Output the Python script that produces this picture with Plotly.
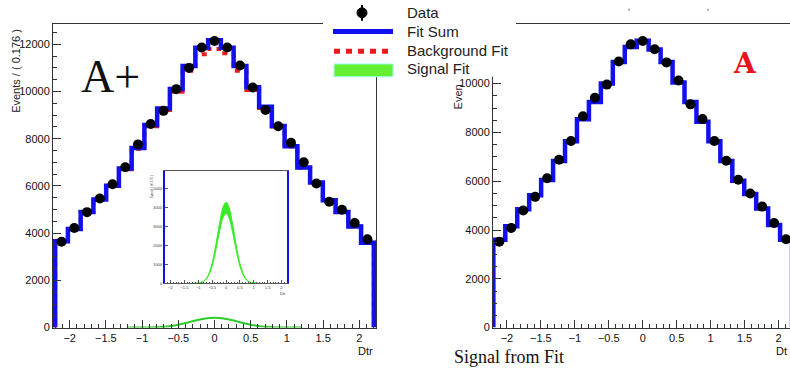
import plotly.graph_objects as go

W, H = 790, 371

# ---------------- data ----------------
bin_centers = [-2.112, -1.936, -1.760, -1.584, -1.408, -1.232, -1.056, -0.880, -0.704,
               -0.528, -0.352, -0.176, 0.0, 0.176, 0.352, 0.528, 0.704, 0.880,
               1.056, 1.232, 1.408, 1.584, 1.760, 1.936, 2.112]
bin_half = 0.088

data_left = [3640, 4220, 4890, 5470, 6070, 6790, 7760, 8620, 9180, 10100, 11000, 11860, 12140,
             11860, 11100, 10170, 9220, 8530, 7830, 7000, 6100, 5330, 4990, 4430, 3740]
fit_left = [3660, 4180, 4900, 5430, 6010, 6740, 7610, 8580, 9280, 10110, 11080, 11850, 12170,
            11850, 11080, 10180, 9350, 8540, 7680, 6780, 6150, 5390, 4900, 4280, 3590]
bkg_left = [3658, 4178, 4896, 5420, 6000, 6710, 7580, 8530, 9220, 9990, 10880, 11580, 11800,
            11620, 10880, 10060, 9300, 8520, 7670, 6775, 6148, 5390, 4900, 4280, 3590]

data_right = [3520, 4085, 4800, 5360, 6120, 6880, 7650, 8660, 9420, 9960, 10910, 11610, 11750,
              11410, 10870, 10130, 9150, 8550, 7650, 6840, 6060, 5500, 4960, 4290, 3620]
fit_right = [3600, 4150, 4850, 5420, 6050, 6830, 7640, 8540, 9250, 10010, 10890, 11500, 11760,
             11400, 10890, 10050, 9250, 8440, 7640, 6830, 6020, 5480, 4880, 4210, 3600]

sig_x = [-1.2, -1.1, -1.0, -0.9, -0.8, -0.7, -0.6, -0.5, -0.4, -0.3, -0.2, -0.1, 0.0,
         0.1, 0.2, 0.3, 0.4, 0.5, 0.6, 0.7, 0.8, 0.9, 1.0, 1.1, 1.2]
sig_y = [0, 1, 3, 8, 18, 38, 72, 124, 192, 271, 346, 400, 420,
         400, 346, 271, 192, 124, 72, 38, 18, 8, 3, 1, 0]

band_hi = [1, 5, 17, 48, 123, 283, 580, 1071, 1767, 2610, 3444, 4068, 4300,
           4068, 3444, 2610, 1767, 1071, 580, 283, 123, 48, 17, 5, 1]
band_lo = [0, 4, 14, 41, 106, 243, 500, 921, 1521, 2246, 2964, 3500, 3700,
           3500, 2964, 2246, 1521, 921, 500, 243, 106, 41, 14, 4, 0]

x_ticks = [-2, -1.5, -1, -0.5, 0, 0.5, 1, 1.5, 2]
x_ticklabels = ["\u22122", "\u22121.5", "\u22121", "\u22120.5", "0", "0.5", "1", "1.5", "2"]
y_ticks_main = [0, 2000, 4000, 6000, 8000, 10000, 12000]
y_ticks_inset = [0, 1000, 2000, 3000, 4000, 5000]

legend_labels = ["Data", "Fit Sum", "Background Fit", "Signal Fit"]

BLUE = "#1010f0"
RED = "#ee1a1a"
GREEN_LINE = "#2ccc2c"
GREEN_BAND = "#3cea2a"


def step(vals):
    xs = [bin_centers[0] - bin_half] + [c - bin_half for c in bin_centers] + [bin_centers[-1] + bin_half] * 2
    ys = [0] + list(vals) + [vals[-1], 0]
    return xs, ys


def px(x):
    return x / W


def py(y):
    return 1 - y / H


fig = go.Figure()

# left main panel
xs, ys = step(bkg_left)
fig.add_trace(go.Scatter(x=xs, y=ys, mode="lines", line=dict(color=RED, width=4, dash="5px,5px", shape="hv"),
                         xaxis="x", yaxis="y", hoverinfo="skip"))
xs, ys = step(fit_left)
fig.add_trace(go.Scatter(x=xs, y=ys, mode="lines", line=dict(color=BLUE, width=4.5, shape="hv"),
                         xaxis="x", yaxis="y", hoverinfo="skip"))
fig.add_trace(go.Scatter(x=sig_x, y=sig_y, mode="lines", line=dict(color=GREEN_LINE, width=2, shape="spline"),
                         xaxis="x", yaxis="y", hoverinfo="skip"))
fig.add_trace(go.Scatter(x=bin_centers, y=data_left, mode="markers", marker=dict(color="black", size=10),
                         xaxis="x", yaxis="y", cliponaxis=False))

# right panel
xs, ys = step(fit_right)
fig.add_trace(go.Scatter(x=xs, y=ys, mode="lines", line=dict(color=BLUE, width=4.5, shape="hv"),
                         xaxis="x2", yaxis="y2", hoverinfo="skip"))
fig.add_trace(go.Scatter(x=bin_centers, y=data_right, mode="markers", marker=dict(color="black", size=10),
                         xaxis="x2", yaxis="y2", cliponaxis=False))

# inset band
fig.add_trace(go.Scatter(x=sig_x, y=band_lo, mode="lines", line=dict(color=GREEN_BAND, width=1, shape="spline"),
                         xaxis="x3", yaxis="y3", hoverinfo="skip"))
fig.add_trace(go.Scatter(x=sig_x, y=band_hi, mode="lines", fill="tonexty", fillcolor=GREEN_BAND,
                         line=dict(color=GREEN_BAND, width=1, shape="spline"),
                         xaxis="x3", yaxis="y3", hoverinfo="skip"))

tickfont = dict(family="Liberation Sans, Arial, sans-serif", size=11, color="#111")
axis_common = dict(showgrid=False, zeroline=False, showline=True, linecolor="#333", linewidth=1,
                   ticks="inside", tickcolor="#333", tickfont=tickfont, fixedrange=True)

dom_y = [38 / H, 347 / H]

fig.update_layout(
    width=W, height=H, margin=dict(l=0, r=0, t=0, b=0),
    paper_bgcolor="white", plot_bgcolor="rgba(0,0,0,0)", showlegend=False,
    xaxis=dict(domain=[53 / W, 376 / W], range=[-2.23, 2.23], anchor="y", mirror=True,
               tickvals=x_ticks, ticktext=x_ticklabels, ticklen=8,
               minor=dict(ticks="inside", dtick=0.1, ticklen=4, tickcolor="#333"), **axis_common),
    yaxis=dict(domain=dom_y, range=[0, 12875], anchor="x", mirror=True,
               tickvals=y_ticks_main, tickformat="d", ticklen=8,
               minor=dict(ticks="inside", dtick=500, ticklen=4, tickcolor="#333"), **axis_common),
    xaxis2=dict(domain=[493 / W, 1.0], range=[-2.205, 2.17], anchor="y2", mirror=True,
                tickvals=x_ticks, ticktext=x_ticklabels, ticklen=8,
                minor=dict(ticks="inside", dtick=0.1, ticklen=4, tickcolor="#333"), **axis_common),
    yaxis2=dict(domain=dom_y, range=[0, 12460], anchor="x2",
                tickvals=y_ticks_main, tickformat="d", ticklen=8,
                minor=dict(ticks="inside", dtick=500, ticklen=4, tickcolor="#333"), **axis_common),
    xaxis3=dict(domain=[165 / W, 287 / W], range=[-2.2, 2.2], anchor="y3", mirror=True,
                tickvals=x_ticks, ticktext=x_ticklabels, ticklen=3, showgrid=False, zeroline=False,
                showline=True, linecolor="#555", linewidth=1, ticks="inside", tickcolor="#555",
                tickfont=dict(family="Liberation Sans, Arial, sans-serif", size=4, color="#333"),
                minor=dict(ticks="inside", dtick=0.1, ticklen=1.5, tickcolor="#555"), fixedrange=True),
    yaxis3=dict(domain=[83 / H, 197 / H], range=[0, 5940], anchor="x3", mirror=True,
                tickvals=y_ticks_inset, tickformat="d", ticklen=3, showgrid=False, zeroline=False,
                showline=True, linecolor=BLUE, linewidth=2, ticks="inside", tickcolor="#555",
                tickfont=dict(family="Liberation Sans, Arial, sans-serif", size=4, color="#333"),
                fixedrange=True),
)

shapes = []
# legend white box covering frame lines
shapes.append(dict(type="rect", xref="paper", yref="paper", x0=px(323), x1=px(516), y0=py(0), y1=py(78),
                   fillcolor="white", line=dict(width=0), layer="above"))
# data symbol
shapes.append(dict(type="line", xref="paper", yref="paper", x0=px(362), x1=px(362), y0=py(5), y1=py(21),
                   line=dict(color="black", width=2), layer="above"))
shapes.append(dict(type="circle", xref="paper", yref="paper", x0=px(357), x1=px(367), y0=py(8), y1=py(18),
                   fillcolor="black", line=dict(color="black", width=1), layer="above"))
# fit sum symbol
shapes.append(dict(type="line", xref="paper", yref="paper", x0=px(333), x1=px(393), y0=py(32), y1=py(32),
                   line=dict(color=BLUE, width=5), layer="above"))
# background symbol
shapes.append(dict(type="line", xref="paper", yref="paper", x0=px(334), x1=px(393), y0=py(52), y1=py(52),
                   line=dict(color=RED, width=5, dash="6px,6px"), layer="above"))
# signal symbol
shapes.append(dict(type="rect", xref="paper", yref="paper", x0=px(334), x1=px(393), y0=py(65), y1=py(78),
                   fillcolor="#66ee33", line=dict(color="#99ffee", width=1), layer="above"))
# tiny marks at top
for mx in (629, 708):
    shapes.append(dict(type="rect", xref="paper", yref="paper", x0=px(mx - 0.8), x1=px(mx + 0.8),
                       y0=py(9), y1=py(11), fillcolor="#999", line=dict(width=0), layer="above"))
fig.update_layout(shapes=shapes)

ann = []
leg_y = [12.5, 32, 51.5, 70]
for lab, yy in zip(legend_labels, leg_y):
    ann.append(dict(text=lab, xref="paper", yref="paper", x=px(405), y=py(yy), xanchor="left", yanchor="middle",
                    showarrow=False, font=dict(family="Liberation Sans, Arial, sans-serif", size=15, color="#222")))

ann.append(dict(text="Events / ( 0.176 )", xref="paper", yref="paper", x=px(16), y=py(72), textangle=-90,
                xanchor="center", yanchor="middle", showarrow=False,
                font=dict(family="Liberation Sans, Arial, sans-serif", size=11, color="#222")))
ann.append(dict(text="Even", xref="paper", yref="paper", x=px(458), y=py(99), textangle=-90,
                xanchor="center", yanchor="middle", showarrow=False,
                font=dict(family="Liberation Sans, Arial, sans-serif", size=11, color="#222")))
ann.append(dict(text="Dtr", xref="paper", yref="paper", x=px(365), y=py(357), xanchor="center", yanchor="middle",
                showarrow=False, font=dict(family="Liberation Sans, Arial, sans-serif", size=11, color="#111")))
ann.append(dict(text="Dt", xref="paper", yref="paper", x=px(774), y=py(357), xanchor="left", yanchor="middle",
                showarrow=False, font=dict(family="Liberation Sans, Arial, sans-serif", size=11, color="#111")))
ann.append(dict(text="Dtr", xref="paper", yref="paper", x=px(283), y=py(298), xanchor="center", yanchor="middle",
                showarrow=False, font=dict(family="Liberation Sans, Arial, sans-serif", size=4, color="#333")))
ann.append(dict(text="Events / ( 0.176 )", xref="paper", yref="paper", x=px(152), y=py(190), textangle=-90,
                xanchor="center", yanchor="middle", showarrow=False,
                font=dict(family="Liberation Sans, Arial, sans-serif", size=3, color="#333")))
ann.append(dict(text="A+", xref="paper", yref="paper", x=px(110), y=py(78), xanchor="center", yanchor="middle",
                showarrow=False, font=dict(family="Liberation Serif, Times New Roman, serif", size=46, color="#111")))
ann.append(dict(text="<b>A</b>", xref="paper", yref="paper", x=px(745), y=py(65), xanchor="center", yanchor="middle",
                showarrow=False, font=dict(family="DejaVu Serif, serif", size=28, color="#e8141c")))
ann.append(dict(text="Signal from Fit", xref="paper", yref="paper", x=px(452), y=py(363), xanchor="left",
                yanchor="middle", showarrow=False,
                font=dict(family="Liberation Serif, Times New Roman, serif", size=18, color="#111")))
fig.update_layout(annotations=ann)

fig.write_html("out.html", config={"displayModeBar": False},
               post_script="document.body.style.margin='0';document.body.style.overflow='hidden';")
